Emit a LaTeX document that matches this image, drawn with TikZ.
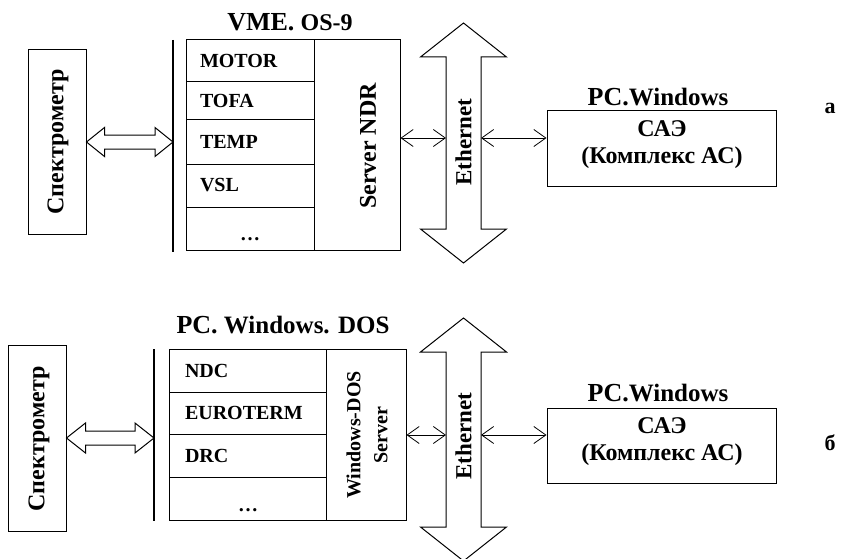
\documentclass[tikz,border=0pt]{standalone}
\usepackage{fontspec}
\setmainfont{Liberation Serif}
\usetikzlibrary{arrows.meta,calc}

\newcommand\rowfont{\bfseries\fontsize{20}{22}\selectfont}
\newcommand\bigfont{\bfseries\fontsize{24}{26}\selectfont}
\newcommand\boxfont{\bfseries\fontsize{24}{27}\selectfont}
\newcommand\titlefont{\bfseries\fontsize{25}{27}\selectfont}

% hollow double arrows: from, to, shaft half width, head half width, head length
\newcommand\fatarrowh[5]{%
  \draw[fat] (#1) -- ($(#1)+(#5,-#4)$) -- ($(#1)+(#5,-#3)$) -- ($(#2)+(-#5,-#3)$)
    -- ($(#2)+(-#5,-#4)$) -- (#2) -- ($(#2)+(-#5,#4)$) -- ($(#2)+(-#5,#3)$)
    -- ($(#1)+(#5,#3)$) -- ($(#1)+(#5,#4)$) -- cycle;}
\newcommand\fatarrowv[5]{%
  \draw[fat] (#1) -- ($(#1)+(#4,#5)$) -- ($(#1)+(#3,#5)$) -- ($(#2)+(#3,-#5)$)
    -- ($(#2)+(#4,-#5)$) -- (#2) -- ($(#2)+(-#4,-#5)$) -- ($(#2)+(-#3,-#5)$)
    -- ($(#1)+(-#3,#5)$) -- ($(#1)+(-#4,#5)$) -- cycle;}

\tikzset{
  box/.style={draw, line width=1pt, inner sep=0pt},
  rowbox/.style 2 args={box, text width=#1, inner xsep=#2, align=left, font=\rowfont},
  vtext/.style={rotate=90, font=\bigfont, inner sep=0pt, align=center},
  titletext/.style={font=\titlefont, inner sep=0pt},
  bus/.style={line width=1.6pt},
  fat/.style={line width=1pt, line join=miter},
  link/.style={{Straight Barb[length=12pt,width=17pt]}-{Straight Barb[length=12pt,width=17pt]}, line width=0.8pt}
}

\begin{document}
\begin{tikzpicture}[x=1pt,y=-1pt]
  \useasboundingbox (0,0) rectangle (856,559);

  % ---- a) VME, OS-9
  \node (spec1) [box, minimum width=58pt, minimum height=184pt] at (57,142) {};
  \node (spec1t) [vtext] at (58,142) {Спектрометр};
  \coordinate (bus1t) at (173,40);
  \coordinate (bus1b) at (173,252);
  \draw[bus] (bus1t) -- (bus1b);
  \coordinate (h1) at (bus1t |- spec1.east);
  \fatarrowh{spec1.east}{h1}{7}{14.5}{18}

  \foreach \nm/\txt/\ya/\yb in {motor/MOTOR/40/82, tofa/TOFA/82/120,
      temp/TEMP/120/164, vsl/VSL/164/207, more1/{}/207/250}
    \node (\nm) [rowbox={100pt}{14pt}, minimum height={\yb-\ya}] at (250,{(\ya+\yb)/2}) {\txt};
  \node (dots1) [font=\rowfont, inner sep=0pt] at (250,239) {…};
  \node (server1) [box, minimum width=86pt, minimum height=210pt] at (357,145) {};
  \node (server1t) [vtext] at (368,146) {Server NDR};
  \node (title1) [titletext] at (290,22) {{\fontsize{26}{28}\selectfont VME.} {\fontsize{24}{26}\selectfont OS-9}};

  \coordinate (eth1t) at (463.5,23);
  \coordinate (eth1b) at (463.5,263);
  \fatarrowv{eth1t}{eth1b}{17.5}{43}{34}
  \node (eth1) [vtext, font=\bfseries\fontsize{23}{25}\selectfont] at (463.5,142) {Ethernet};
  \coordinate (eth1l) at (446,138);
  \coordinate (eth1r) at (481,138);

  \node (cae1) [box, minimum width=229pt, minimum height=76pt] at (661.5,148.5) {};
  \node (cae1t) [font=\boxfont, align=center, inner sep=0pt] at (662,145) {САЭ\\(Комплекс АС)};
  \node (title2) [titletext] at (658,97) {{\fontsize{26}{28}\selectfont PC.}Windows};
  \draw[link] (server1.east |- eth1l) -- (eth1l);
  \draw[link] (eth1r) -- (cae1.west |- eth1r);
  \node (laba) [font=\bfseries\fontsize{22}{24}\selectfont] at (830,108) {а};

  % ---- б) PC, Windows, DOS
  \node (spec2) [box, minimum width=58pt, minimum height=186pt] at (37,438) {};
  \node (spec2t) [vtext] at (39,439) {Спектрометр};
  \coordinate (bus2t) at (154,349);
  \coordinate (bus2b) at (154,521);
  \draw[bus] (bus2t) -- (bus2b);
  \coordinate (h2) at (bus2t |- spec2.east);
  \fatarrowh{spec2.east}{h2}{7}{15}{19}

  \foreach \nm/\txt/\ya/\yb in {ndc/NDC/349/392, euro/EUROTERM/392/434,
      drc/DRC/434/477, more2/{}/477/520}
    \node (\nm) [rowbox={125pt}{16pt}, minimum height={\yb-\ya}] at (247.5,{(\ya+\yb)/2}) {\txt};
  \node (dots2) [font=\rowfont, inner sep=0pt] at (248,510) {…};
  \node (server2) [box, minimum width=80pt, minimum height=171pt] at (366,434.5) {};
  \node (server2t) [vtext, font=\bfseries\fontsize{20}{27}\selectfont] at (367,435) {Windows-DOS\\Server};
  \node (title3) [titletext] at (283,325) {{\fontsize{26}{28}\selectfont PC.} Windows. DOS};

  \coordinate (eth2t) at (463.5,318);
  \coordinate (eth2b) at (463.5,561);
  \fatarrowv{eth2t}{eth2b}{17.5}{43}{34}
  \node (eth2) [vtext, font=\bfseries\fontsize{23}{25}\selectfont] at (463.5,436) {Ethernet};
  \coordinate (eth2l) at (446,435);
  \coordinate (eth2r) at (481,435);

  \node (cae2) [box, minimum width=229pt, minimum height=75pt] at (661.5,445.5) {};
  \node (cae2t) [font=\boxfont, align=center, inner sep=0pt] at (662,442) {САЭ\\(Комплекс АС)};
  \node (title4) [titletext] at (658,393) {{\fontsize{26}{28}\selectfont PC.}Windows};
  \draw[link] (server2.east |- eth2l) -- (eth2l);
  \draw[link] (eth2r) -- (cae2.west |- eth2r);
  \node (labb) [font=\bfseries\fontsize{22}{24}\selectfont] at (830,443) {б};
\end{tikzpicture}
\end{document}
